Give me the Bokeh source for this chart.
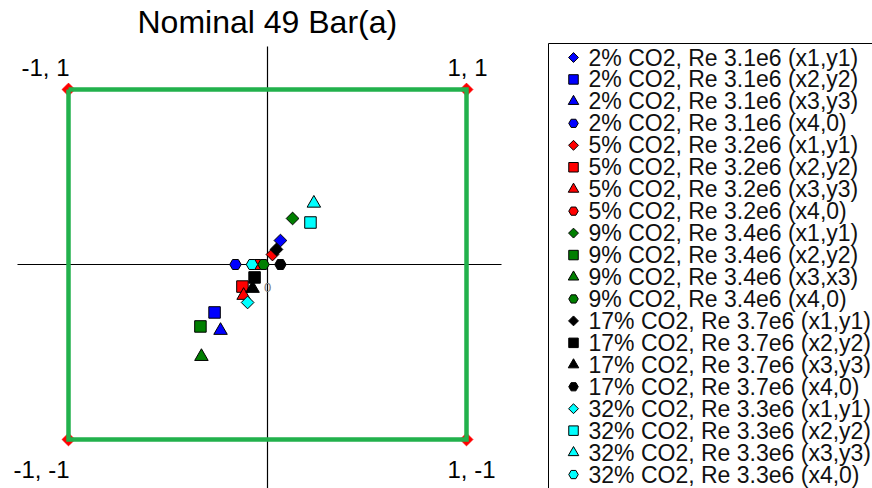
import math
from bokeh.plotting import figure
from bokeh.models import Range1d
from bokeh.core.properties import value
from bokeh.embed import file_html
from bokeh.resources import INLINE

# ---------------- data ----------------
co2 = ["2%", "5%", "9%", "17%", "32%"]
reynolds = ["3.1e6", "3.2e6", "3.4e6", "3.7e6", "3.3e6"]

x1 = [0.065, 0.025, 0.126, 0.045, -0.100]
y1 = [0.137, 0.057, 0.263, 0.086, -0.217]
x2 = [-0.266, -0.126, -0.337, -0.065, 0.216]
y2 = [-0.274, -0.126, -0.354, -0.074, 0.240]
x3 = [-0.236, -0.120, -0.332, -0.075, 0.233]
y3 = [-0.377, -0.177, -0.526, -0.137, 0.350]
x4 = [-0.161, -0.050, -0.020, 0.065, -0.078]
y4 = [0.0, 0.0, 0.0, 0.0, 0.0]

pair_names = [
    ["(x1,y1)", "(x2,y2)", "(x3,y3)", "(x4,0)"],
    ["(x1,y1)", "(x2,y2)", "(x3,y3)", "(x4,0)"],
    ["(x1,y1)", "(x2,y2)", "(x3,x3)", "(x4,0)"],
    ["(x1,y1)", "(x2,y2)", "(x3,y3)", "(x4,0)"],
    ["(x1,y1)", "(x2,y2)", "(x3,y3)", "(x4,0)"],
]

corner_x = [-1, 1, 1, -1, -1]
corner_y = [1, 1, -1, -1, 1]
corner_labels = ["-1, 1", "1, 1", "1, -1", "-1, -1"]

origin_label_x = [0.0]
origin_label_y = [-0.13]
origin_label = ["0"]

title_text = "Nominal 49 Bar(a)"

# ---------------- styles / layout ----------------
colors = ["#0000FF", "#FF0000", "#007F00", "#000000", "#00FFFF"]
markers = ["square", "square", "triangle", "hex"]
angles = [math.pi / 4, 0, 0, 0]
sizes = [9, 11.5, 13.5, 11.5]
legend_sizes = [7, 9.5, 10.5, 9.5]

W, H = 872, 488
TOP = 40                      # band above the frame for the title
PX0, PY0 = 267, 264           # canvas pixel of data (0, 0)
SX, SY = 199.0, 175.0         # pixels per data unit
FONT = "Liberation Sans"


def dx(px):
    return (px - PX0) / SX


def dy(py):
    return (PY0 - py) / SY


xr = Range1d(dx(0), dx(W))
yr = Range1d(dy(H), dy(TOP))

p = figure(width=W, height=H, x_range=xr, y_range=yr,
           output_backend="svg", toolbar_location=None, tools="",
           min_border_left=0, min_border_right=0, min_border_bottom=0,
           min_border_top=TOP)
p.xaxis.visible = False
p.yaxis.visible = False
p.grid.visible = False
p.outline_line_color = None
p.background_fill_color = "white"
p.border_fill_color = "white"

p.title.text = title_text
p.title.text_font = FONT
p.title.text_font_size = "32px"
p.title.text_font_style = "normal"
p.title.text_color = "black"
p.title.align = "left"
p.title.offset = 137
p.title.standoff = 1

# cross-hair axis lines
p.segment(x0=[dx(17), 0], y0=[0, dy(46)],
          x1=[dx(501), 0], y1=[0, yr.start],
          line_color="black", line_width=1.2)

# corner points and the bounding square
p.scatter(corner_x[:4], corner_y[:4], marker="square", angle=math.pi / 4,
          size=9, fill_color="#FF0000", line_color="#FF0000")
p.line(corner_x, corner_y, line_color="#22B14C", line_width=4.5,
       line_join="miter")

p.text(x=corner_x[:4], y=corner_y[:4], text=corner_labels,
       text_font=value(FONT), text_font_size="24px", text_color="black",
       text_align=["right", "left", "left", "right"],
       text_baseline="alphabetic",
       x_offset=[1, -19, -19, 1], y_offset=[-22, -22, 30, 30])

p.text(x=origin_label_x, y=origin_label_y, text=origin_label,
       text_font=value(FONT), text_font_size="13px", text_color="#777777",
       text_align="center", text_baseline="middle")

# data series
xs_all = [x1, x2, x3, x4]
ys_all = [y1, y2, y3, y4]
labels = []
for g in range(len(co2)):
    for k in range(4):
        p.scatter(x=[xs_all[k][g]], y=[ys_all[k][g]], marker=markers[k],
                  angle=angles[k], size=sizes[k], fill_color=colors[g],
                  line_color="black", line_width=1)
        labels.append(f"{co2[g]} CO2, Re {reynolds[g]} {pair_names[g][k]}")

# legend box (drawn by hand to get the compact row pitch)
LEG_LEFT, LEG_TOP = 548, 43
ROW0, PITCH = 57, 21.95
MARK_X, TEXT_X = 573, 588
p.quad(left=[dx(LEG_LEFT)], right=[dx(W + 20)], top=[dy(LEG_TOP)],
       bottom=[dy(H + 20)], fill_color="white", line_color="black",
       line_width=1)
row = 0
for g in range(len(co2)):
    for k in range(4):
        p.scatter(x=[dx(MARK_X)], y=[dy(ROW0 + row * PITCH)],
                  marker=markers[k], angle=angles[k], size=legend_sizes[k],
                  fill_color=colors[g], line_color="black", line_width=1)
        row += 1
p.text(x=[dx(TEXT_X)] * len(labels),
       y=[dy(ROW0 + i * PITCH) for i in range(len(labels))],
       text=labels, text_font=value(FONT), text_font_size="23px",
       text_color="#111111", text_align="left", text_baseline="middle")

open("out.html", "w").write(file_html(p, INLINE))
